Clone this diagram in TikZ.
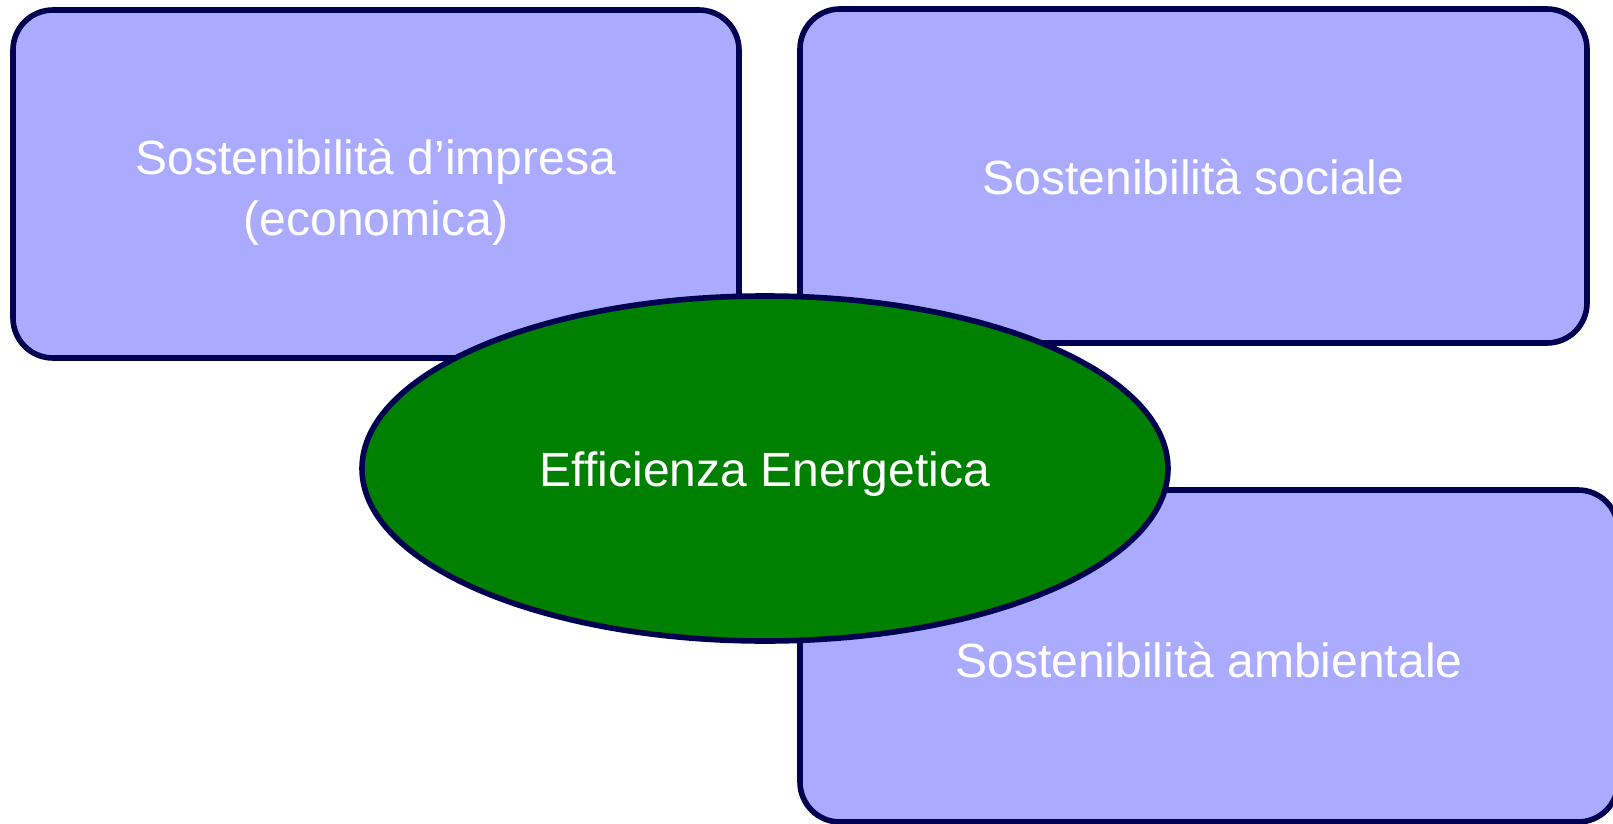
\documentclass[tikz,border=0pt]{standalone}
\usepackage{fontspec}
\setmainfont{Liberation Sans}
\usetikzlibrary{shapes.geometric}
\definecolor{boxfill}{RGB}{170,170,255}
\definecolor{boxline}{RGB}{0,0,80}
\definecolor{ovalfill}{RGB}{0,128,0}
\newcommand{\sunk}[2]{\raisebox{-#1}[\height][\depth]{#2}}
\tikzstyle{pillar}=[rectangle, rounded corners = 20pt, draw = boxline, fill = boxfill, line width = 2.8pt, text = white, font = \fontsize{24}{30.5}\selectfont]
\tikzstyle{core}=[ellipse, draw = boxline, fill = ovalfill, line width = 2.8pt, text = white, inner sep = 0pt, font = \fontsize{24}{30.5}\selectfont]
\begin{document}
\begin{tikzpicture}[x = .5pt, y = -.5pt]
\useasboundingbox (0,0) rectangle (1613,824);
\node (econ) at (376, 184) [pillar, minimum width = 363pt, minimum height = 174pt] {\sunk{4.5pt}{\begin{tabular}{@{}c@{}}Sostenibilità d’impresa\\(economica)\end{tabular}}};
\node (soc) at (1193.5, 176) [pillar, minimum width = 393.5pt, minimum height = 167pt] {\sunk{.5pt}{Sostenibilità sociale}};
\node (amb) at (1209, 656) [pillar, minimum width = 409pt, minimum height = 166pt] {\sunk{2pt}{Sostenibilità ambientale}};
%%%%%%%%%%%%%%%%%%%%%%%
\node (eff) at (765, 468.5) [core, minimum width = 403pt, minimum height = 172.5pt] {\sunk{3pt}{Efficienza Energetica}};
\end{tikzpicture}
\end{document}
